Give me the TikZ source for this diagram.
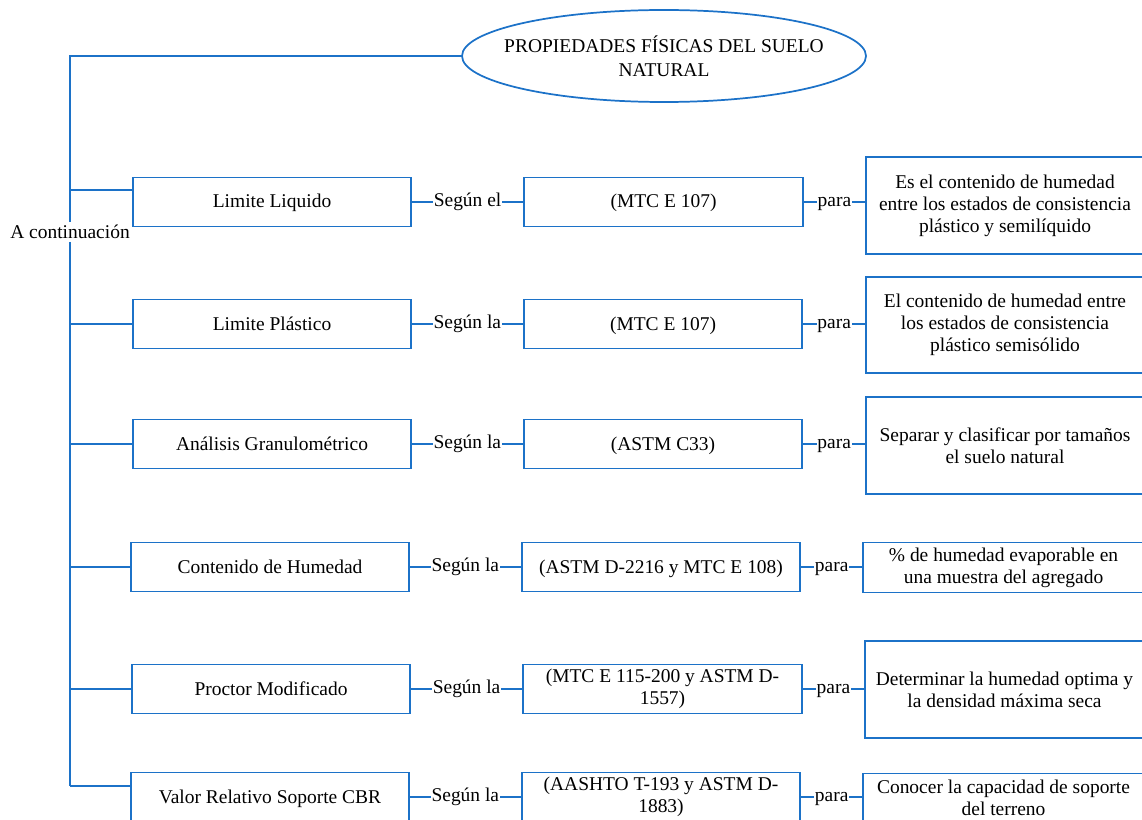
\documentclass[tikz,border=0pt]{standalone}
\usepackage{fontspec}
\setmainfont{Liberation Serif}
\definecolor{lblue}{RGB}{28,114,200}
\begin{document}
\begin{tikzpicture}[x=0.75pt,y=-0.75pt,
  every node/.style={font=\fontsize{14.6}{16.5}\selectfont},
  box/.style={draw=lblue, line width=1.4pt, rectangle, align=center, inner sep=2pt},
  oneline/.style={text height=12pt, text depth=3pt},
  lbox/.style={box, oneline, minimum width=208.5pt, minimum height=36.75pt},
  mbox/.style={box, minimum width=209pt, minimum height=36.75pt},
  rbox/.style={box, minimum width=208.5pt},
  lbl/.style={fill=white, inner sep=0.6pt, text height=10pt, text depth=3pt},
  conn/.style={draw=lblue, line width=1.4pt}]
\useasboundingbox (0,0) rectangle (1142,820);

% title
\node[align=center, inner sep=0pt, font=\fontsize{14.6}{18}\selectfont] (ell) at (664,56) {PROPIEDADES FÍSICAS DEL SUELO\\NATURAL};
\draw[lblue, line width=1.3pt] (ell.center) ellipse [x radius=202, y radius=46];
\coordinate (ellw) at (462,56);

% trunk
\coordinate (top) at (70,56);
\coordinate (bot) at (70,786);
\node[inner sep=2pt] (ac) at (70,232) {A continuación};
\draw[conn] (ellw) -- (top) -- (ac.north);
\draw[conn] (ac.south) -- (bot);

% rows
\node[lbox] (b1) at (272,202) {Limite Liquido};
\node[lbox] (b2) at (272,324) {Limite Plástico};
\node[lbox] (b3) at (272,444) {Análisis Granulométrico};
\node[lbox] (b4) at (270,567) {Contenido de Humedad};
\node[lbox] (b5) at (271,689) {Proctor Modificado};
\node[lbox] (b6) at (270,797) {Valor Relativo Soporte CBR};

\node[mbox, oneline] (m1) at (663.5,202) {(MTC E 107)};
\node[mbox, oneline] (m2) at (663,324) {(MTC E 107)};
\node[mbox, oneline] (m3) at (663,444) {(ASTM C33)};
\node[mbox, oneline] (m4) at (661,567) {(ASTM D-2216 y MTC E 108)};
\node[mbox] (m5) at (662.5,689) {(MTC E 115-200 y ASTM D-\\1557)};
\node[mbox] (m6) at (661,797) {(AASHTO T-193 y ASTM D-\\1883)};

\node[rbox, minimum height=72.75pt] (r1) at (1005,205.5) {Es el contenido de humedad\\entre los estados de consistencia\\plástico y semilíquido};
\node[rbox, minimum height=72pt] (r2) at (1005,325) {El contenido de humedad entre\\los estados de consistencia\\plástico semisólido};
\node[rbox, minimum height=72.75pt] (r3) at (1005,445.5) {Separar y clasificar por tamaños\\el suelo natural};
\node[rbox, minimum width=210.75pt, minimum height=37.5pt] (r4) at (1003.5,567.5) {\% de humedad evaporable en\\una muestra del agregado};
\node[rbox, minimum width=209.25pt, minimum height=72.75pt] (r5) at (1004.5,689.5) {Determinar la humedad optima y\\la densidad máxima seca};
\node[rbox, minimum width=210.75pt, minimum height=36pt] (r6) at (1003.5,797.5) {Conocer la capacidad de soporte\\del terreno};

% branches
\coordinate (j1) at (70,190);
\coordinate (j2) at (70,324);
\coordinate (j3) at (70,444);
\coordinate (j4) at (70,567);
\coordinate (j5) at (70,689);
\coordinate (j6) at (70,786);
\draw[conn] (j1) -- (j1 -| b1.west);
\draw[conn] (j2) -- (j2 -| b2.west);
\draw[conn] (j3) -- (j3 -| b3.west);
\draw[conn] (j4) -- (j4 -| b4.west);
\draw[conn] (j5) -- (j5 -| b5.west);
\draw[conn] (j6) -- (j6 -| b6.west);

% connectors
\draw[conn] (b1.east) -- node[lbl]{Según el} (m1.west);
\draw[conn] (b2.east) -- node[lbl]{Según la} (m2.west);
\draw[conn] (b3.east) -- node[lbl]{Según la} (m3.west);
\draw[conn] (b4.east) -- node[lbl]{Según la} (m4.west);
\draw[conn] (b5.east) -- node[lbl]{Según la} (m5.west);
\draw[conn] (b6.east) -- node[lbl]{Según la} (m6.west);

\draw[conn] (m1.east) -- node[lbl]{para} (m1.east -| r1.west);
\draw[conn] (m2.east) -- node[lbl]{para} (m2.east -| r2.west);
\draw[conn] (m3.east) -- node[lbl]{para} (m3.east -| r3.west);
\draw[conn] (m4.east) -- node[lbl]{para} (m4.east -| r4.west);
\draw[conn] (m5.east) -- node[lbl]{para} (m5.east -| r5.west);
\draw[conn] (m6.east) -- node[lbl]{para} (m6.east -| r6.west);
\end{tikzpicture}
\end{document}
